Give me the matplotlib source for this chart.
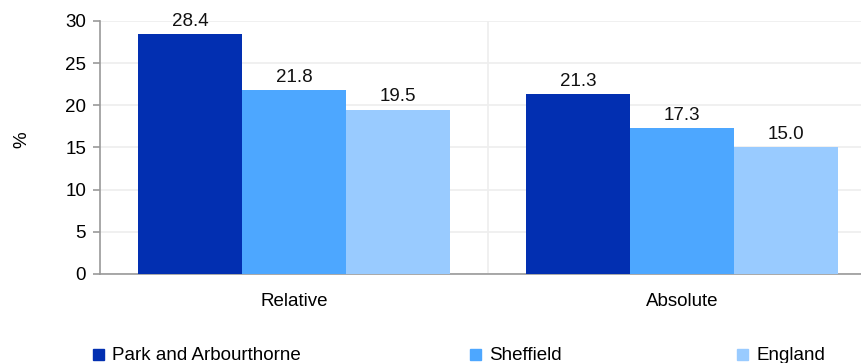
import numpy as np
import matplotlib
matplotlib.use("Agg")
import matplotlib.pyplot as plt

categories = ["Relative", "Absolute"]
series = ["Park and Arbourthorne", "Sheffield", "England"]
values = {
    "Park and Arbourthorne": [28.4, 21.3],
    "Sheffield": [21.8, 17.3],
    "England": [19.5, 15.0],
}
colors = ["#022fb1", "#4da7ff", "#99cbff"]

plt.rcParams["font.family"] = ["Liberation Sans", "DejaVu Sans"]
plt.rcParams["font.size"] = 13.5

W, H = 861, 363
fig = plt.figure(figsize=(W / 100, H / 100), dpi=100)
ax = fig.add_axes([100 / W, 1 - 274 / H, (W - 100) / W, (274 - 21) / H])

x = np.arange(len(categories))
bw = 104 / 388
for i, s in enumerate(series):
    pos = x + (i - 1) * bw
    bars = ax.bar(pos, values[s], width=bw, color=colors[i], zorder=3)
    for b, v in zip(bars, values[s]):
        ax.text(b.get_x() + b.get_width() / 2, v + 0.5, f"{v:.1f}",
                ha="center", va="bottom", color="#111111")

ax.set_xlim(-0.5, 0.5 + (W - 488) / 388)
ax.set_ylim(0, 30)
ax.set_yticks(range(0, 31, 5))
ax.set_xticks(x)
ax.set_xticklabels(categories)
ax.set_xticks([0.5], minor=True)
ax.grid(axis="y", color="#eeeeee", lw=1.2, zorder=0)
ax.grid(axis="x", which="minor", color="#eeeeee", lw=1.2, zorder=0)
ax.tick_params(axis="x", which="both", length=0, pad=14)
ax.tick_params(axis="y", length=5, color="#999999", width=1.2, pad=5)
for sp in ["top", "right"]:
    ax.spines[sp].set_visible(False)
for sp in ["left", "bottom"]:
    ax.spines[sp].set_color("#999999")
    ax.spines[sp].set_linewidth(1.2)

fig.text(22 / W, 1 - 140 / H, "%", rotation=90, ha="center", va="center")

leg_x = [93, 470, 737]
for c, s, lx in zip(colors, series, leg_x):
    fig.patches.append(plt.Rectangle((lx / W, 1 - 360 / H), 11 / W, 11 / H,
                                     transform=fig.transFigure, color=c))
    fig.text((lx + 19) / W, 1 - 355 / H, s, ha="left", va="center")

fig.savefig("out.png", dpi=100)
